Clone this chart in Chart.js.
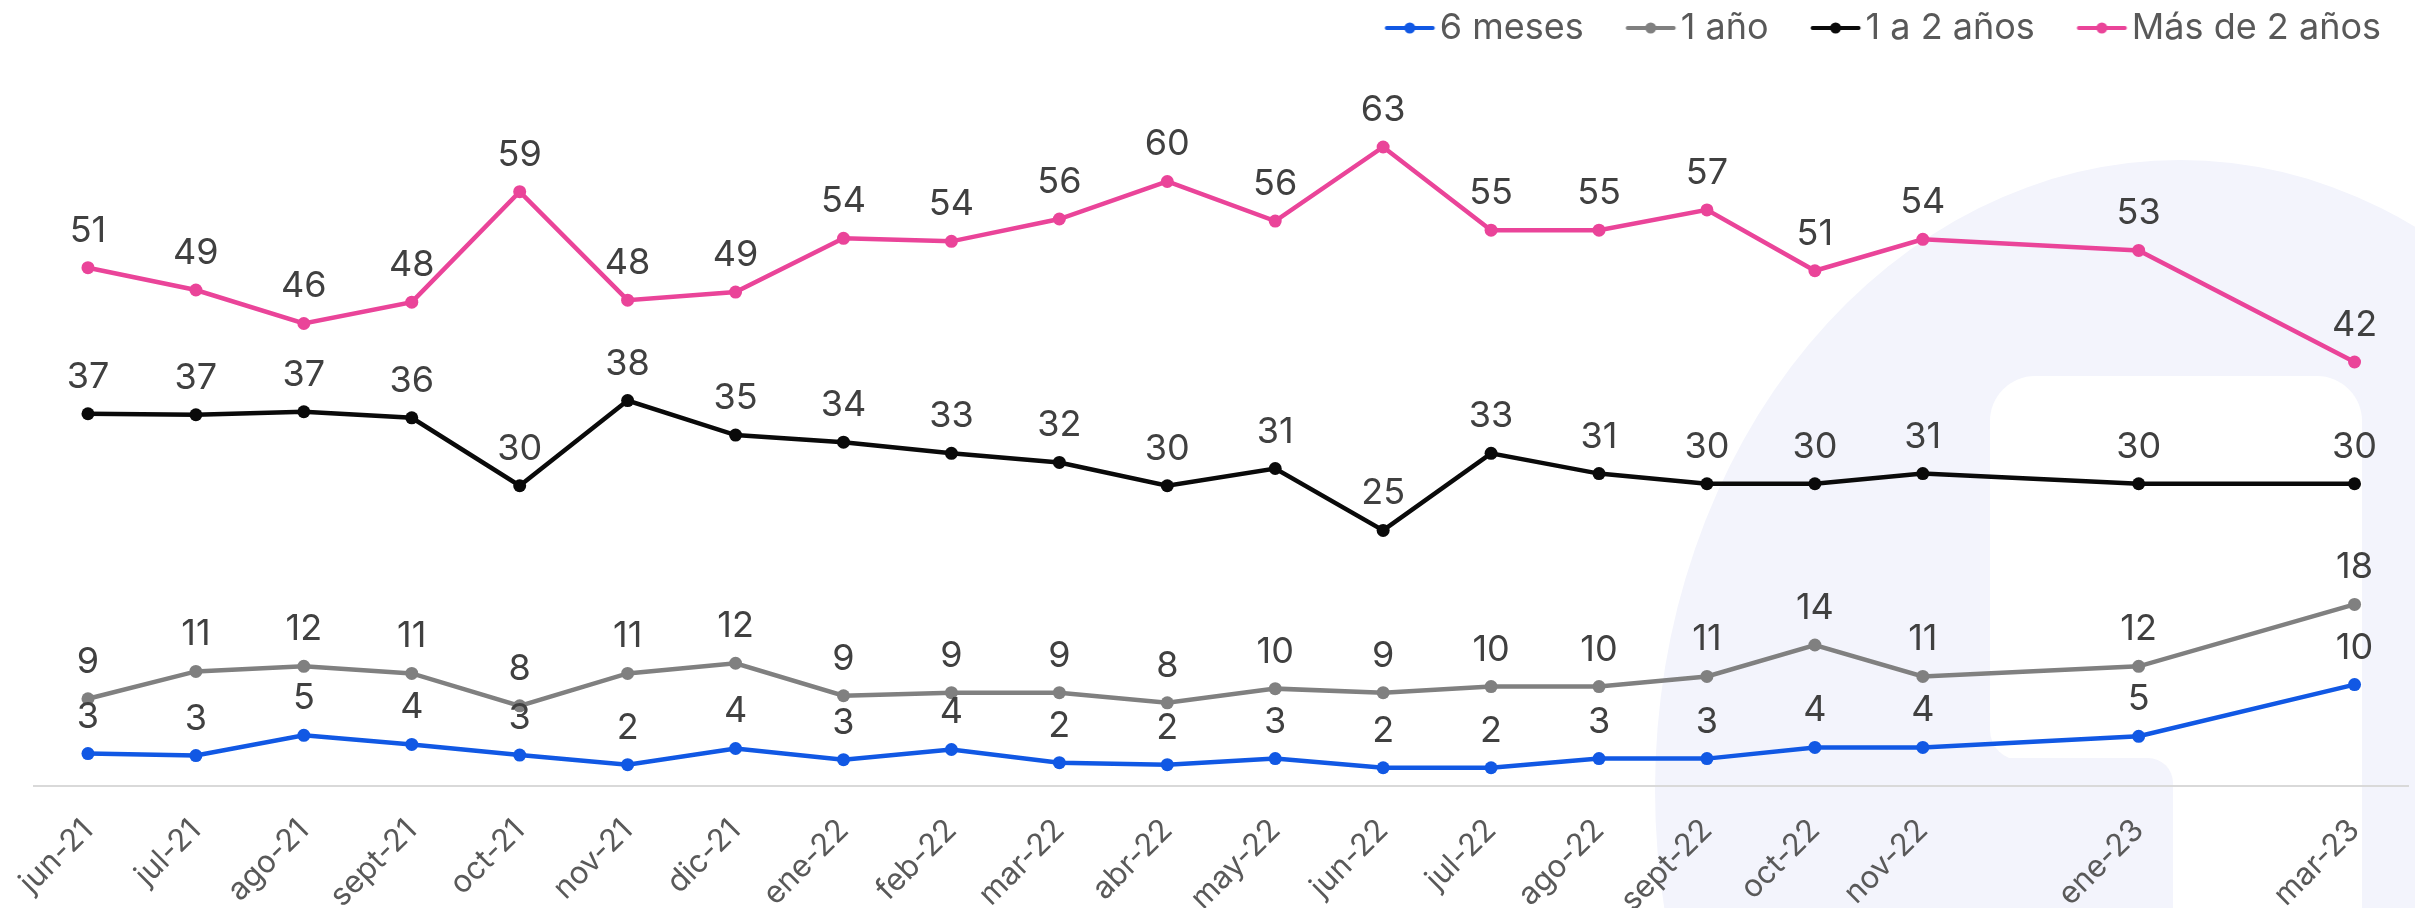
<!DOCTYPE html>
<html>
<head>
<meta charset="utf-8">
<script src="https://cdn.jsdelivr.net/npm/chart.js@4.4.1/dist/chart.umd.min.js"></script>
<style>
  html,body{margin:0;padding:0;background:#fff;}
  #wrap{width:2415px;height:908px;position:relative;}
</style>
</head>
<body>
<div id="wrap"><canvas id="chart"></canvas></div>
<script>
// months on a monthly axis (dic-22 and feb-23 have no data)
const months = ["jun-21","jul-21","ago-21","sept-21","oct-21","nov-21","dic-21",
  "ene-22","feb-22","mar-22","abr-22","may-22","jun-22","jul-22","ago-22","sept-22",
  "oct-22","nov-22","dic-22","ene-23","feb-23","mar-23"];

const seisMeses = [3.2,3.0,5.0,4.1,3.05,2.1,3.7,2.6,3.6,2.3,2.1,2.7,1.8,1.8,2.7,2.7,3.8,3.8,null,4.9,null,10.0];
const unAnio    = [8.6,11.3,11.8,11.1,7.9,11.1,12.1,8.9,9.2,9.2,8.2,9.6,9.2,9.8,9.8,10.8,13.9,10.8,null,11.8,null,17.9];
const unoADos   = [36.7,36.6,36.9,36.3,29.6,38.0,34.6,33.9,32.8,31.9,29.6,31.3,25.2,32.8,30.8,29.8,29.8,30.8,null,29.8,null,29.8];
const masDeDos  = [51.1,48.9,45.6,47.7,58.6,47.9,48.7,54.0,53.7,55.9,59.6,55.7,63.0,54.8,54.8,56.8,50.8,53.9,null,52.8,null,41.8];

const seriesNames = ["6 meses","1 año","1 a 2 años","Más de 2 años"];
const seriesColors = ["#1158E4","#808080","#0A0A0A","#EA4499"];
const seriesData = [seisMeses, unAnio, unoADos, masDeDos];

const FONT = "Inter";
const TEXT = "#404040";
const TICK = "#595959";

// legend marker: line with a dot, drawn on the right part of a wider image
function legendMarker(color){
  const c = document.createElement("canvas");
  c.width = 100; c.height = 14;
  const g = c.getContext("2d");
  g.strokeStyle = color; g.lineWidth = 4; g.lineCap = "round";
  g.beginPath(); g.moveTo(49.5,7); g.lineTo(95.5,7); g.stroke();
  g.fillStyle = color;
  g.beginPath(); g.arc(72.5,7,5.5,0,Math.PI*2); g.fill();
  return c;
}

// light logo watermark behind the chart
const watermark = {
  id:"watermark",
  beforeDraw(chart){
    const ctx = chart.ctx;
    ctx.save();
    ctx.fillStyle = "#F3F4FC";
    ctx.beginPath();
    ctx.ellipse(2180, 790, 525, 630, 0, 0, Math.PI*2);
    ctx.fill();
    ctx.fillStyle = "#FFFFFF";
    ctx.beginPath();
    ctx.roundRect(1990, 376, 372, 384, [45, 45, 0, 30]);
    ctx.fill();
    ctx.fillRect(2140, 700, 222, 220);
    ctx.fillStyle = "#F3F4FC";
    ctx.beginPath();
    ctx.roundRect(1960, 758, 213, 200, [0, 25, 0, 0]);
    ctx.fill();
    ctx.restore();
  }
};

// extra room under the legend, and legend nudged left
const legendTweak = {
  id:"legendTweak",
  beforeInit(chart){
    const lg = chart.legend;
    const fit = lg.fit;
    lg.fit = function(){
      fit.call(this);
      this.height += 20;
    };
    const draw = lg.draw;
    lg.draw = function(){
      this.ctx.save();
      this.ctx.translate(-24, 0);
      draw.apply(this, arguments);
      this.ctx.restore();
    };
  }
};

// rounded value labels above each point
const valueLabels = {
  id:"valueLabels",
  afterDatasetsDraw(chart){
    const ctx = chart.ctx;
    ctx.save();
    ctx.font = "36px " + FONT;
    ctx.fillStyle = TEXT;
    ctx.textAlign = "center";
    ctx.textBaseline = "alphabetic";
    chart.data.datasets.forEach((ds,i)=>{
      const meta = chart.getDatasetMeta(i);
      meta.data.forEach((pt,j)=>{
        const v = ds.data[j];
        if(v === null) return;
        ctx.fillText(String(Math.round(v)), pt.x, pt.y - 26);
      });
    });
    ctx.restore();
  }
};

const datasets = seriesNames.map((name,i)=>({
  label:name,
  data:seriesData[i],
  borderColor:seriesColors[i],
  backgroundColor:seriesColors[i],
  borderWidth:4.5,
  pointRadius:6.5,
  pointHoverRadius:6.5,
  pointBorderWidth:0,
  tension:0,
  spanGaps:true
}));

new Chart(document.getElementById("chart"),{
  type:"line",
  data:{ labels:months, datasets:datasets },
  plugins:[watermark, legendTweak, valueLabels],
  options:{
    responsive:true,
    maintainAspectRatio:false,
    animation:false,
    layout:{ padding:{ top:0, right:0, left:34, bottom:0 } },
    plugins:{
      tooltip:{ enabled:false },
      legend:{
        position:"top",
        align:"end",
        labels:{
          usePointStyle:true,
          pointStyleWidth:69,
          padding:10,
          color:TICK,
          font:{ family:FONT, size:36 },
          generateLabels(chart){
            return chart.data.datasets.map((ds,i)=>({
              text:ds.label,
              fillStyle:ds.borderColor,
              strokeStyle:ds.borderColor,
              pointStyle:legendMarker(ds.borderColor),
              fontColor:TICK,
              hidden:false,
              datasetIndex:i
            }));
          }
        }
      }
    },
    scales:{
      x:{
        offset:true,
        grid:{ display:false },
        border:{ display:true, color:"#D9D9D9", width:2 },
        afterFit(scale){
          scale.height = 122;
          scale.paddingLeft = 0;
          scale.paddingRight = 0;
        },
        ticks:{
          autoSkip:false,
          maxRotation:45,
          minRotation:45,
          padding:18,
          color:TICK,
          font:{ family:FONT, size:31 },
          callback(value, index){
            const has = seriesData.some(s=>s[index] !== null);
            return has ? months[index] : "";
          }
        }
      },
      y:{
        display:false,
        min:0,
        max:70
      }
    }
  }
});
</script>
</body>
</html>
